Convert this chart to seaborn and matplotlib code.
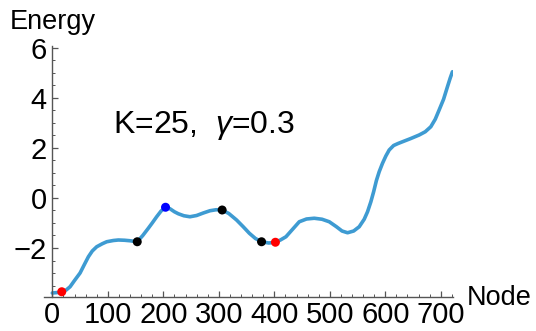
import matplotlib
matplotlib.use("Agg")
import matplotlib.pyplot as plt
from matplotlib.ticker import MultipleLocator
import seaborn as sns
import pandas as pd

# ---- data ----
nodes = [0, 10, 17, 25, 32, 40, 50, 58, 65, 72, 80, 90, 98, 110, 119, 130, 140,
         153, 163, 173, 180, 188, 196, 204, 212, 220, 227, 237, 248, 260, 272,
         284, 295, 306, 318, 332, 344, 355, 366, 377, 390, 402, 411, 421, 433,
         445, 458, 472, 486, 499, 512, 522, 532, 543, 553, 562, 568, 574, 579,
         584, 589, 595, 601, 607, 615, 623, 631, 646, 661, 672, 682, 690, 697,
         705, 712, 717, 721]
energy = [-3.80, -3.78, -3.75, -3.68, -3.55, -3.30, -3.00, -2.65, -2.35, -2.12,
          -1.95, -1.83, -1.75, -1.70, -1.68, -1.69, -1.71, -1.75, -1.50, -1.21,
          -1.00, -0.75, -0.52, -0.37, -0.43, -0.55, -0.63, -0.71, -0.75, -0.70,
          -0.60, -0.51, -0.47, -0.48, -0.62, -0.88, -1.15, -1.41, -1.62, -1.75,
          -1.80, -1.77, -1.68, -1.55, -1.25, -0.95, -0.84, -0.81, -0.85, -0.95,
          -1.15, -1.32, -1.39, -1.32, -1.15, -0.85, -0.55, -0.15, 0.25,
          0.70, 1.05, 1.39, 1.68, 1.92, 2.10, 2.18, 2.25, 2.38, 2.52, 2.65,
          2.85, 3.15, 3.52, 3.95, 4.45, 4.80, 5.05]

pt_nodes = [17, 153, 204, 306, 377, 402]
pt_energy = [-3.75, -1.75, -0.37, -0.48, -1.75, -1.77]
pt_kind = ["end", "saddle", "top", "saddle", "saddle", "end"]

x_ticks = [0, 100, 200, 300, 400, 500, 600, 700]
y_ticks = [-2, 0, 2, 4, 6]
annotation = r"K=25,  $\mathit{\gamma}$=0.3"

# ---- style ----
sns.set_theme(style="ticks")
plt.rcParams["font.family"] = ["Liberation Sans", "DejaVu Sans"]
plt.rcParams["mathtext.fontset"] = "custom"
plt.rcParams["mathtext.it"] = "Liberation Sans:italic"
plt.rcParams["mathtext.rm"] = "Liberation Sans"

fig = plt.figure(figsize=(5.36, 3.31), dpi=100)
ax = fig.add_axes([44 / 536, 1 - 297 / 331, (453 - 44) / 536, (297 - 46) / 331])

df = pd.DataFrame({"Node": nodes, "Energy": energy})
sns.lineplot(data=df, x="Node", y="Energy", ax=ax, color="#3E9BD2",
             linewidth=2.6, sort=False, zorder=2)

pts = pd.DataFrame({"Node": pt_nodes, "Energy": pt_energy, "kind": pt_kind})
sns.scatterplot(data=pts, x="Node", y="Energy", hue="kind",
                palette={"end": "#FF0000", "saddle": "#000000", "top": "#0000FF"},
                s=42, edgecolor="none", legend=False, ax=ax, zorder=3)

ax.set_xlim(-15, 722)
ax.set_ylim(-3.96, 6.08)
ax.set_xticks(x_ticks)
ax.set_yticks(y_ticks)
ax.xaxis.set_minor_locator(MultipleLocator(20))
ax.yaxis.set_minor_locator(MultipleLocator(0.5))

for side in ["top", "right"]:
    ax.spines[side].set_visible(False)
ax.spines["left"].set_position(("data", 0))
for side in ["left", "bottom"]:
    ax.spines[side].set_color("#555555")
    ax.spines[side].set_linewidth(1.0)

ax.tick_params(axis="both", which="both", bottom=True, left=True,
               top=False, right=False)
ax.tick_params(axis="both", which="major", direction="in", length=4.5,
               width=0.9, color="#555555", labelsize=21, labelcolor="black")
ax.tick_params(axis="both", which="minor", direction="in", length=2.5,
               width=0.7, color="#555555")
ax.tick_params(axis="x", which="major", pad=3)
ax.tick_params(axis="y", which="major", pad=4)
ax.set_xlabel("")
ax.set_ylabel("")

fig.text(53 / 536, 1 - 22 / 331, "Energy", ha="center", va="center",
         fontsize=19.5, color="black")
fig.text(467 / 536, 1 - 298 / 331, "Node", ha="left", va="center",
         fontsize=19.5, color="black")
ax.text(109, 2.88, annotation, ha="left", va="center", fontsize=23,
        color="black")

fig.savefig("out.png", dpi=100)
